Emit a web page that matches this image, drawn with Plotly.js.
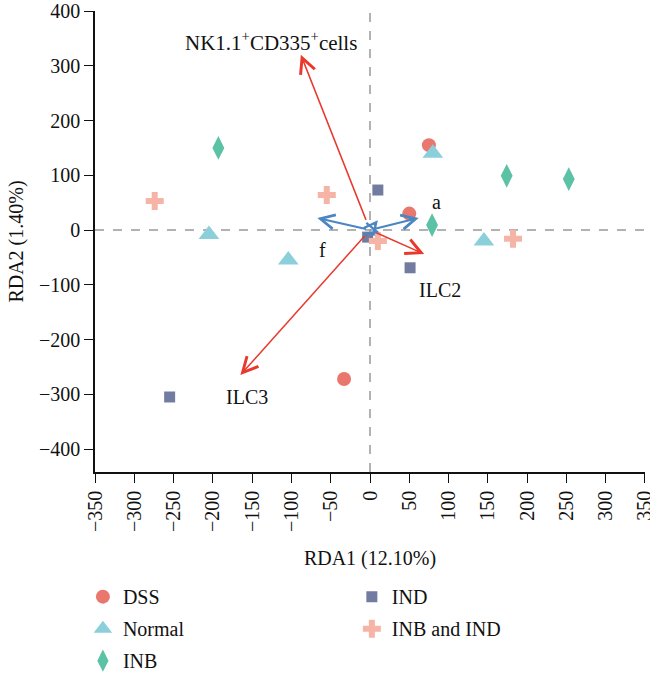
<!DOCTYPE html>
<html>
<head>
<meta charset="utf-8">
<script src="https://cdn.plot.ly/plotly-3.0.1.min.js"></script>
<style>
  html, body { margin: 0; padding: 0; background: #fff; }
  #chart { width: 650px; height: 675px; }
</style>
</head>
<body>
<div id="chart"></div>
<script>
// Sample scores on the first two RDA axes
const dssX = [75, 50, -33];
const dssY = [155, 30, -272];
const normalX = [80, -205, -104, 145];
const normalY = [140, -8, -55, -20];
const inbX = [-193, 79, 174, 253];
const inbY = [150, 9, 99, 93];
const indX = [10, 51, -255, -3];
const indY = [73, -69, -305, -13];
const inbIndX = [-274, -55, 10, 182];
const inbIndY = [53, 64, -20, -16];

// Environmental (cell population) vectors
const envNames = ["NK1.1<sup>+</sup>CD335<sup>+</sup>cells", "ILC3", "ILC2"];
const envX = [-88, -165, 69];
const envY = [320, -265, -44];
const envLabelX = [-126, -157, 89];
const envLabelY = [345, -305, -110];

// Species vectors
const spNames = ["f", "a", "", "", "", "", ""];
const spX = [-67, 62, 10, -8, 6, 12, -6];
const spY = [22, 22, 18, 14, 16, -4, -12];
const spLabelX = [-61, 85];
const spLabelY = [-37, 51];

const serif = "Liberation Serif";
const red = "#E8392C";
const blue = "#4A85C4";

function pts(name, xs, ys, symbol, color, size, legend) {
  return {
    type: "scatter", mode: "markers", name: name, x: xs, y: ys,
    legend: legend, legendgroup: name,
    marker: { symbol: symbol, color: color, size: size, line: { width: 0 } },
    hoverinfo: "x+y+name"
  };
}

const traces = [
  pts("DSS", dssX, dssY, "circle", "#E9776E", 14, "legend"),
  pts("Normal", normalX, normalY, "triangle-up", "#8BCFDB", 18, "legend"),
  pts("INB", inbX, inbY, "diamond-tall", "#5CC2A6", 17, "legend"),
  pts("IND", indX, indY, "square", "#727CA0", 11, "legend2"),
  pts("INB and IND", inbIndX, inbIndY, "cross", "#F6B4A6", 15, "legend2")
];

const annotations = [];
envNames.forEach((n, i) => {
  annotations.push({
    x: envX[i], y: envY[i], ax: 0, ay: 0, xref: "x", yref: "y", axref: "x", ayref: "y",
    text: " ", showarrow: true, arrowhead: 5, arrowsize: 2, arrowwidth: 1.5,
    arrowcolor: red, standoff: 0
  });
  annotations.push({
    x: envLabelX[i], y: envLabelY[i], xref: "x", yref: "y", text: n, showarrow: false,
    font: { family: serif, size: i === 0 ? 21 : 20, color: "#111" }
  });
});
spNames.forEach((n, i) => {
  const big = n !== "";
  annotations.push({
    x: spX[i], y: spY[i], ax: 0, ay: 0, xref: "x", yref: "y", axref: "x", ayref: "y",
    text: " ", showarrow: true, arrowhead: 5, arrowsize: big ? 1.4 : 1.2, arrowwidth: 2,
    arrowcolor: blue, standoff: 0
  });
  if (big) {
    annotations.push({
      x: spLabelX[i], y: spLabelY[i], xref: "x", yref: "y", text: n, showarrow: false,
      font: { family: serif, size: 20, color: "#111" }
    });
  }
});

const legendStyle = {
  yanchor: "top", xanchor: "left", yref: "container", xref: "paper",
  y: 0.145, font: { family: serif, size: 20 }, bgcolor: "rgba(0,0,0,0)",
  itemwidth: 30, tracegroupgap: 3
};

const layout = {
  width: 650, height: 675,
  margin: { l: 95, r: 5, t: 11, b: 203, autoexpand: false },
  paper_bgcolor: "#fff", plot_bgcolor: "#fff",
  font: { family: serif, size: 20, color: "#111" },
  xaxis: {
    range: [-350, 350.01], dtick: 50, tick0: 0, tickangle: -90,
    tickfont: { family: serif, size: 20 }, ticklabeloverflow: "allow",
    ticks: "outside", ticklen: 9, tickwidth: 1.3, tickcolor: "#111",
    showline: true, linecolor: "#111", linewidth: 1.5,
    showgrid: false, zeroline: false, automargin: false,
    title: { text: "RDA1 (12.10%)", font: { family: serif, size: 20 }, standoff: 20 }
  },
  yaxis: {
    range: [-442, 400.01], dtick: 100, tick0: 0,
    tickfont: { family: serif, size: 20 }, ticklabeloverflow: "allow",
    ticks: "outside", ticklen: 9, tickwidth: 1.3, tickcolor: "#111",
    showline: true, linecolor: "#111", linewidth: 1.5,
    showgrid: false, zeroline: false, automargin: false,
    title: { text: "RDA2 (1.40%)", font: { family: serif, size: 20 }, standoff: 10 }
  },
  shapes: [
    { type: "line", xref: "x", yref: "paper", x0: 0, x1: 0, y0: 0, y1: 1,
      line: { color: "#999", width: 1.5, dash: "dash" }, layer: "below" },
    { type: "line", xref: "paper", yref: "y", x0: 0, x1: 1, y0: 0, y1: 0,
      line: { color: "#999", width: 1.5, dash: "dash" }, layer: "below" }
  ],
  annotations: annotations,
  legend: Object.assign({}, legendStyle, { x: -0.022 }),
  legend2: Object.assign({}, legendStyle, { x: 0.467 }),
  showlegend: true
};

Plotly.newPlot("chart", traces, layout, { displayModeBar: false, responsive: false });
</script>
</body>
</html>
